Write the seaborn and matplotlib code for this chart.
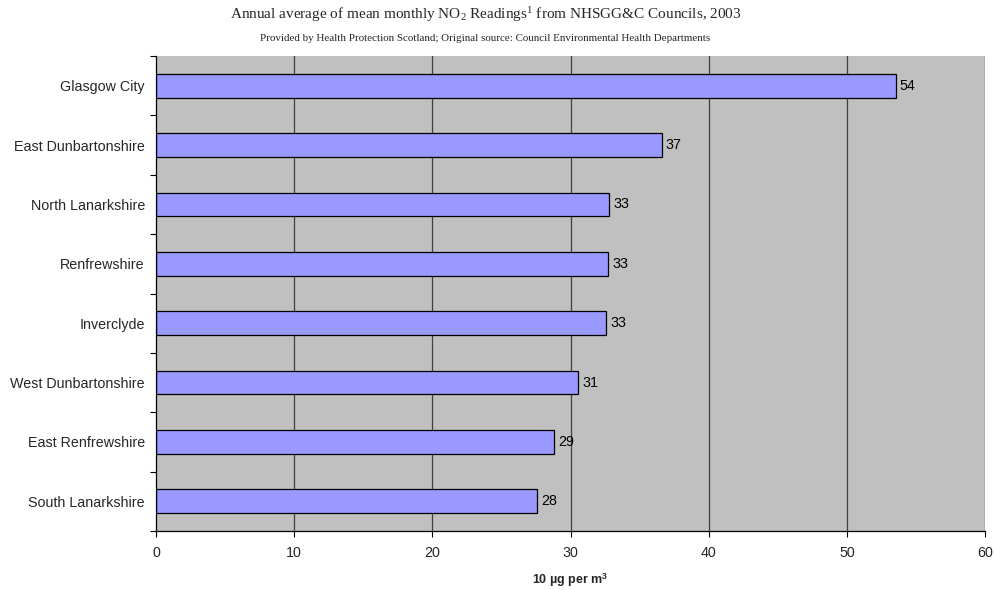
import matplotlib
matplotlib.use("Agg")
import matplotlib.pyplot as plt
import numpy as np
import pandas as pd
import seaborn as sns

councils = [
    "Glasgow City",
    "East Dunbartonshire",
    "North Lanarkshire",
    "Renfrewshire",
    "Inverclyde",
    "West Dunbartonshire",
    "East Renfrewshire",
    "South Lanarkshire",
]
no2_values = [53.54, 36.6, 32.8, 32.7, 32.6, 30.55, 28.8, 27.6]
x_ticks = [0, 10, 20, 30, 40, 50, 60]

df = pd.DataFrame({"council": councils, "no2": no2_values})

sns.set_theme(style="white")
plt.rcParams["font.family"] = ["Liberation Sans", "DejaVu Sans"]
plt.rcParams["mathtext.fontset"] = "custom"
plt.rcParams["mathtext.rm"] = "Liberation Serif"
plt.rcParams["mathtext.it"] = "Liberation Serif:italic"
plt.rcParams["mathtext.bf"] = "Liberation Sans:bold"

fig = plt.figure(figsize=(9.95, 5.9), dpi=100)
ax = fig.add_axes([156 / 995, 1 - 531 / 590, (985 - 156) / 995, (531 - 56) / 590])
ax.set_facecolor("#C0C0C0")

sns.barplot(data=df, x="no2", y="council", orient="h", color="#9999FF",
            saturation=1, edgecolor="black", linewidth=0.9, width=0.4, ax=ax)

ax.bar_label(ax.containers[0], fmt="%.0f", padding=3, fontsize=10.3, color="black")

ax.set_xlim(0, 60)
ax.set_ylim(len(councils) - 0.5, -0.5)
ax.set_xticks(x_ticks)
ax.set_xticklabels([str(t) for t in x_ticks], fontsize=10.3)
ax.set_yticks(np.arange(len(councils)))
ax.set_yticklabels(councils, fontsize=10.3)
ax.set_yticks(np.arange(-0.5, len(councils), 1.0), minor=True)
ax.tick_params(axis="y", which="major", left=True, length=0, pad=8)
ax.tick_params(axis="y", which="minor", left=True, length=4, width=0.8, color="black", direction="out")
ax.tick_params(axis="x", which="major", bottom=True, length=4, width=0.8, color="black", direction="out", pad=7)

for x in x_ticks[1:]:
    ax.axvline(x, color="#404040", linewidth=0.9, zorder=0)

for side in ["top", "right"]:
    ax.spines[side].set_visible(False)
for side in ["left", "bottom"]:
    ax.spines[side].set_color("black")
    ax.spines[side].set_linewidth(0.9)

ax.set_ylabel("")
ax.set_xlabel(r"10 µg per m$^\mathbf{3}$", fontsize=9, fontweight="bold", labelpad=8)

fig.text(0.488, 0.976,
         r"Annual average of mean monthly NO$_2$ Readings$^1$ from NHSGG&C Councils, 2003",
         ha="center", va="center", fontsize=11, family="Liberation Serif")
fig.text(0.488, 0.935,
         "Provided by Health Protection Scotland; Original source: Council Environmental Health Departments",
         ha="center", va="center", fontsize=7.9, family="Liberation Serif")

fig.savefig("out.png", dpi=100, facecolor="white")
